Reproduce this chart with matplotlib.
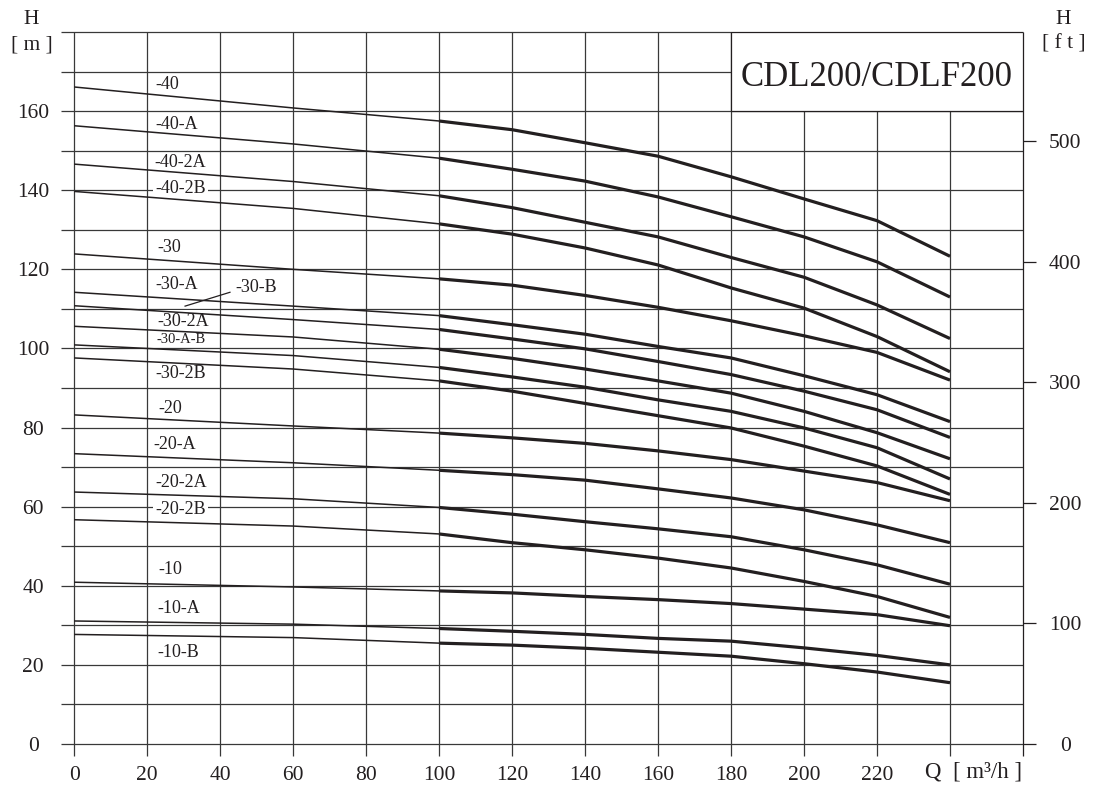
import matplotlib
matplotlib.use('Agg')
import matplotlib.pyplot as plt
from matplotlib.patches import Rectangle

plt.rcParams['font.family'] = ['Liberation Serif', 'DejaVu Serif']

# --- data: flow Q [m3/h] and head H [m] per pump stage ---
q = [0, 60, 100, 120, 140, 160, 180, 200, 220, 240]

h_40 = [166.1, 160.8, 157.5, 155.3, 152.0, 148.6, 143.4, 137.8, 132.3, 123.3]
h_40a = [156.3, 151.7, 148.1, 145.3, 142.3, 138.3, 133.3, 128.2, 121.9, 113.0]
h_40_2a = [146.6, 142.2, 138.6, 135.6, 131.9, 128.2, 123.0, 118.0, 111.0, 102.5]
h_40_2b = [139.7, 135.4, 131.5, 128.9, 125.4, 121.1, 115.3, 110.2, 103.0, 94.1]
h_30 = [123.9, 120.0, 117.6, 116.0, 113.4, 110.4, 107.0, 103.2, 99.0, 92.0]
h_30a = [114.2, 110.7, 108.3, 106.0, 103.6, 100.5, 97.6, 93.1, 88.3, 81.5]
h_30b = [110.8, 107.3, 104.8, 102.4, 99.9, 96.7, 93.4, 89.2, 84.5, 77.5]
h_30_2a = [105.6, 102.9, 99.8, 97.5, 94.8, 91.8, 88.7, 84.1, 78.7, 72.1]
h_30ab = [100.9, 98.2, 95.2, 92.8, 90.2, 87.0, 84.1, 79.9, 74.9, 67.0]
h_30_2b = [97.6, 94.8, 91.8, 89.2, 86.1, 83.0, 79.9, 75.3, 70.3, 63.1]
h_20 = [83.2, 80.4, 78.6, 77.4, 76.0, 74.1, 71.9, 69.0, 66.1, 61.5]
h_20a = [73.4, 71.1, 69.2, 68.1, 66.7, 64.5, 62.2, 59.2, 55.4, 50.9]
h_20_2a = [63.7, 62.0, 59.8, 58.1, 56.2, 54.4, 52.4, 49.1, 45.3, 40.4]
h_20_2b = [56.7, 55.1, 53.1, 50.9, 49.1, 47.0, 44.5, 41.1, 37.3, 32.0]
h_10 = [40.9, 39.7, 38.7, 38.2, 37.3, 36.5, 35.5, 34.1, 32.7, 29.9]
h_10a = [31.1, 30.3, 29.2, 28.5, 27.7, 26.7, 26.0, 24.3, 22.4, 20.0]
h_10b = [27.7, 26.9, 25.5, 25.0, 24.2, 23.2, 22.2, 20.3, 18.2, 15.5]

curve_names = ['-40', '-40-A', '-40-2A', '-40-2B', '-30', '-30-A', '-30-B',
               '-30-2A', '-30-A-B', '-30-2B', '-20', '-20-A', '-20-2A',
               '-20-2B', '-10', '-10-A', '-10-B']
curve_heads = [h_40, h_40a, h_40_2a, h_40_2b, h_30, h_30a, h_30b, h_30_2a,
               h_30ab, h_30_2b, h_20, h_20a, h_20_2a, h_20_2b, h_10, h_10a, h_10b]

q_ticks = [0, 20, 40, 60, 80, 100, 120, 140, 160, 180, 200, 220]
h_ticks = [0, 20, 40, 60, 80, 100, 120, 140, 160]
ft_ticks = [0, 100, 200, 300, 400, 500]

# label anchors (Q, H) and which ones sit on a white patch
label_pos = [(22.2, 166.7), (22.2, 156.6), (21.9, 147.0), (22.2, 140.4),
             (22.9, 125.4), (22.2, 116.2), (44.1, 115.5), (22.7, 106.9),
             (22.7, 102.2), (22.2, 93.6), (23.0, 84.9), (21.6, 75.8),
             (22.2, 66.2), (22.2, 59.3), (23.0, 44.2), (22.7, 34.3),
             (22.7, 23.2)]
boxed = {'-40-2B', '-30-2A', '-20-2B'}

ink = '#231f20'
grid_c = '#383838'

fig = plt.figure(figsize=(10.96, 7.90), dpi=100)
ax = fig.add_axes([61 / 1096, 46 / 790, 962 / 1096, 712 / 790])
ax.set_xlim(-3.6, 260)
ax.set_ylim(0, 180)
for s in ax.spines.values():
    s.set_visible(False)

# grid: horizontal every 10 m, vertical every 20 m3/h (running a bit below the axis)
for h in range(0, 190, 10):
    ax.hlines(h, -3.6, 260, color=grid_c, lw=0.9, zorder=1, clip_on=False)
for x in range(0, 261, 20):
    ax.vlines(x, -3.0, 180, color=grid_c if x < 260 else ink, lw=0.9,
              zorder=1, clip_on=False)

# model box
ax.add_patch(Rectangle((180, 160), 80, 20, fc='white', ec=ink, lw=0.9, zorder=2))
ax.text(220, 169.6, 'CDL200/CDLF200', fontsize=25, ha='center',
        va='center_baseline', color=ink, zorder=4)

# curves: thin below 100 m3/h, heavy in the working range
for name, h, pos in zip(curve_names, curve_heads, label_pos):
    ax.plot(q[:3], h[:3], color=ink, lw=1.1, zorder=3, solid_capstyle='butt')
    ax.plot(q[2:], h[2:], color=ink, lw=2.3, zorder=3, solid_capstyle='butt',
            solid_joinstyle='round')
    size = 10.5 if name == '-30-A-B' else 13
    kw = {}
    if name in boxed:
        kw['bbox'] = dict(fc='white', ec='none', pad=1.5)
    ax.text(pos[0], pos[1], name, fontsize=size, ha='left', va='center',
            color=ink, zorder=2, **kw)

# leader for -30-B
ax.plot([30.4, 42.7], [110.7, 114.2], color=ink, lw=0.9, zorder=3)

# tick labels
ax.set_xticks(q_ticks)
ax.set_xticklabels([str(v) for v in q_ticks], fontsize=15.5, color=ink)
ax.tick_params(axis='x', length=0, pad=15.5)
ax.set_yticks(h_ticks)
ax.set_yticklabels([str(v) for v in h_ticks], fontsize=15.5, color=ink)
ax.tick_params(axis='y', length=0, pad=20)
for t in ax.get_yticklabels():
    t.set_horizontalalignment('center')

ax2 = ax.twinx()
ax2.set_ylim(0, 180 / 0.3048)
for s in ax2.spines.values():
    s.set_visible(False)
ax2.set_yticks(ft_ticks)
ax2.set_yticklabels([str(v) for v in ft_ticks], fontsize=15.5, color=ink)
ax2.tick_params(axis='y', length=9.4, width=0.9, color=ink, pad=21)
for t in ax2.get_yticklabels():
    t.set_horizontalalignment('center')

fig.text(31 / 1096, 1 - 20 / 790, 'H', fontsize=15.5, ha='center', va='center', color=ink)
fig.text(32 / 1096, 1 - 45 / 790, '[ m ]', fontsize=15.5, ha='center', va='center', color=ink)
fig.text(1063 / 1096, 1 - 19 / 790, 'H', fontsize=15.5, ha='center', va='center', color=ink)
fig.text(1064 / 1096, 1 - 44 / 790, '[ f t ]', fontsize=15.5, ha='center', va='center', color=ink)
fig.text(974 / 1096, 1 - 772 / 790, 'Q  [ m³/h ]', fontsize=16.5, ha='center', va='center', color=ink)

fig.savefig('out.png', dpi=100)
